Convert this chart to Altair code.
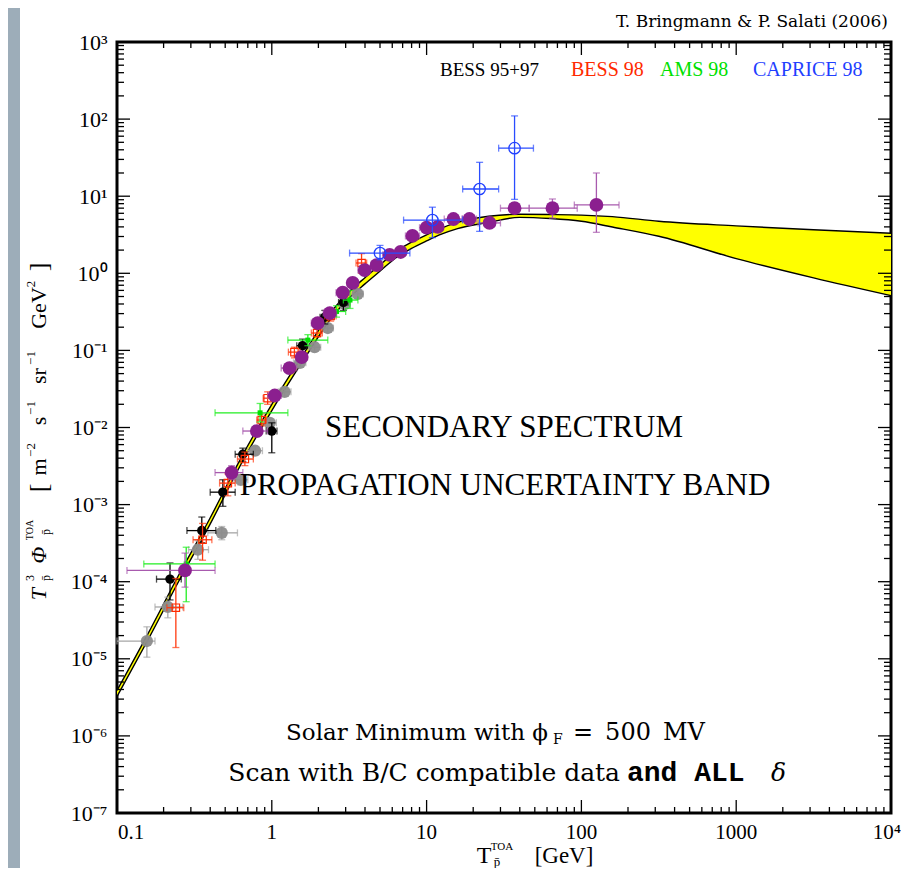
import altair as alt
import pandas as pd

# ---------------- data ----------------
band_T = [0.1, 0.158, 0.251, 0.398, 0.631, 1.0, 1.585, 2.512, 3.162, 3.981, 5.012, 6.31,
          7.943, 10, 12.59, 15.85, 25.12, 39.81, 63.1, 100, 158.5, 316.2, 1000, 3162, 10000]
band_upper = [3.89e-6, 2.09e-5, 1.23e-4, 6.61e-4, 3.98e-3, 0.0200, 0.0871, 0.347, 0.575, 0.871,
              1.29, 1.91, 2.51, 3.16, 3.89, 4.57, 5.50, 5.82, 5.78, 5.69, 5.43, 4.73, 4.12, 3.67, 3.31]
band_lower = [3.24e-6, 1.74e-5, 1.02e-4, 5.50e-4, 3.31e-3, 0.0166, 0.0724, 0.288, 0.479, 0.724,
              1.07, 1.58, 2.09, 2.63, 3.24, 3.80, 4.57, 5.31, 5.13, 4.73, 3.98, 3.02, 1.55, 0.871, 0.513]

# BESS 95+97 (black)
bess9597_T = [0.22, 0.353, 0.483, 0.65, 1.0, 1.58, 2.2, 2.9]
bess9597_y = [1.08e-4, 4.6e-4, 1.45e-3, 4.5e-3, 9.0e-3, 0.115, 0.27, 0.42]
bess9597_Tlo = [0.18, 0.283, 0.40, 0.58, 0.92, 1.45, 2.05, 2.7]
bess9597_Thi = [0.26, 0.435, 0.58, 0.76, 1.08, 1.7, 2.35, 3.1]
bess9597_ylo = [5.8e-5, 3.2e-4, 9.5e-4, 3.6e-3, 4.7e-3, 0.09, 0.22, 0.33]
bess9597_yhi = [1.75e-4, 6.9e-4, 2.1e-3, 5.4e-3, 1.15e-2, 0.14, 0.33, 0.52]

# BESS 98 (red)
bess98_T = [0.24, 0.357, 0.52, 0.67, 0.86, 0.94, 1.4, 1.96, 2.4, 3.8]
bess98_y = [4.6e-5, 3.5e-4, 1.9e-3, 3.9e-3, 0.0125, 0.024, 0.095, 0.168, 0.28, 1.36]
bess98_Tlo = [0.21, 0.31, 0.46, 0.60, 0.80, 0.88, 1.28, 1.8, 2.2, 3.5]
bess98_Thi = [0.27, 0.41, 0.58, 0.76, 0.92, 1.02, 1.52, 2.12, 2.6, 4.1]
bess98_ylo = [1.4e-5, 1.9e-4, 1.3e-3, 3.2e-3, 0.0105, 0.020, 0.08, 0.15, 0.24, 1.0]
bess98_yhi = [1.1e-4, 5.7e-4, 2.5e-3, 4.8e-3, 0.015, 0.029, 0.11, 0.20, 0.33, 1.8]

# AMS 98 (green)
ams98_T = [0.28, 0.84, 1.71, 2.62, 3.2]
ams98_y = [1.7e-4, 0.0155, 0.136, 0.32, 0.45]
ams98_Tlo = [0.149, 0.43, 1.27, 2.3, 2.9]
ams98_Thi = [0.43, 1.27, 2.3, 3.0, 3.6]
ams98_ylo = [5.5e-5, 0.0118, 0.115, 0.27, 0.35]
ams98_yhi = [2.8e-4, 0.0205, 0.16, 0.38, 0.6]

# CAPRICE 98 (blue)
caprice_T = [5.0, 10.9, 22, 37]
caprice_y = [1.83, 4.9, 12.4, 42]
caprice_Tlo = [3.18, 7.1, 17.1, 29.2]
caprice_Thi = [7.8, 17.1, 29.2, 49]
caprice_ylo = [1.5, 2.9, 3.5, 9.1]
caprice_yhi = [2.3, 7.2, 27.5, 110]

# purple series
purple_T = [0.275, 0.55, 0.8, 1.045, 1.3, 1.56, 1.98, 2.37, 2.87, 3.33, 3.98, 4.75, 5.77,
            6.8, 8.1, 10.0, 11.8, 14.9, 18.9, 25.5, 37, 65, 125]
purple_y = [1.4e-4, 2.6e-3, 9e-3, 0.026, 0.059, 0.082, 0.226, 0.305, 0.56, 0.75, 1.1, 1.28,
            1.73, 1.89, 3.05, 3.9, 4.0, 5.06, 5.06, 4.5, 7.0, 7.0, 7.7]
purple_Tlo = [0.116, 0.43, 0.65, 0.94, 1.15, 1.45, 1.8, 2.15, 2.6, 3.15, 3.6, 4.35, 5.2,
              6.3, 7.3, 9.0, 11, 13, 17, 21.5, 30, 46, 90]
purple_Thi = [0.43, 0.65, 0.94, 1.15, 1.45, 1.7, 2.15, 2.6, 3.15, 3.6, 4.35, 5.2, 6.3,
              7.3, 9.0, 11, 12.8, 17, 21, 30, 46, 94, 175]
purple_ylo = [8.5e-5, 2.1e-3, 7.8e-3, 0.023, 0.053, 0.074, 0.205, 0.28, 0.51, 0.69, 1.0, 1.17,
              1.58, 1.73, 2.8, 3.55, 3.65, 4.6, 4.6, 3.9, 6.0, 5.2, 3.4]
purple_yhi = [2.35e-4, 3.2e-3, 1.05e-2, 0.029, 0.066, 0.091, 0.25, 0.335, 0.61, 0.82, 1.2, 1.4,
              1.9, 2.07, 3.35, 4.3, 4.4, 5.55, 5.6, 5.2, 8.2, 9.2, 20]

# gray series
gray_T = [0.156, 0.213, 0.333, 0.475, 0.63, 0.78, 0.97, 1.21, 1.52, 1.89, 2.3, 2.96, 3.59]
gray_y = [1.7e-5, 4.7e-5, 2.6e-4, 4.3e-4, 2.1e-3, 5e-3, 0.0115, 0.029, 0.069, 0.11, 0.195, 0.4, 0.54]
gray_Tlo = [0.1, 0.176, 0.29, 0.386, 0.57, 0.70, 0.88, 1.1, 1.38, 1.72, 2.1, 2.7, 3.3]
gray_Thi = [0.176, 0.266, 0.39, 0.60, 0.70, 0.87, 1.07, 1.33, 1.66, 2.07, 2.5, 3.2, 3.9]
gray_ylo = [1.05e-5, 3.4e-5, 1.95e-4, 3.5e-4, 1.8e-3, 4.4e-3, 0.0101, 0.0255, 0.061, 0.097, 0.172, 0.35, 0.47]
gray_yhi = [2.6e-5, 6.3e-5, 3.4e-4, 5.2e-4, 2.45e-3, 5.7e-3, 0.0131, 0.033, 0.078, 0.125, 0.22, 0.45, 0.62]

x_major = [0.1, 1, 10, 100, 1000, 10000]
x_labels = ["0.1", "1", "10", "100", "1000", "10⁴"]
y_major = [1e-7, 1e-6, 1e-5, 1e-4, 1e-3, 1e-2, 1e-1, 1, 10, 100, 1000]
y_labels = ["10⁻⁷", "10⁻⁶", "10⁻⁵", "10⁻⁴", "10⁻³", "10⁻²", "10⁻¹", "10⁰", "10¹", "10²", "10³"]
minor_mult = [2, 3, 4, 5, 6, 7, 8, 9]

# ---------------- chart ----------------
W, H = 774, 771
SERIF = "Liberation Serif"
WIDE = "DejaVu Serif"
xs = alt.Scale(type="log", domain=[0.1, 1e4], nice=False)
ys = alt.Scale(type="log", domain=[1e-7, 1e3], nice=False)

y_label_expr = "[" + ",".join("'%s'" % s for s in y_labels) + "][round(log(datum.value)/LN10)+7]"

xaxis = alt.Axis(values=x_major, labels=False, ticks=False, domain=False, grid=False, title=None)
yaxis = alt.Axis(values=y_major, labelExpr=y_label_expr, ticks=False, domain=False, grid=False,
                 title=None, labelFont=SERIF, labelFontSize=22, labelColor="black",
                 labelPadding=10, labelFlush=False, labelBaseline="middle")


def X(f):
    return alt.X(f, scale=xs, axis=xaxis, title=None)


def Y(f):
    return alt.Y(f, scale=ys, axis=yaxis, title=None)


band_df = pd.DataFrame({"T": band_T, "lo": band_lower, "hi": band_upper})
band = alt.Chart(band_df).mark_area(color="#ffff00", interpolate="monotone").encode(
    x=X("T:Q"), y=Y("lo:Q"), y2="hi:Q")
band_up = alt.Chart(band_df).mark_line(color="black", strokeWidth=1.4, interpolate="monotone").encode(
    x=X("T:Q"), y=Y("hi:Q"))
band_low = alt.Chart(band_df).mark_line(color="black", strokeWidth=1.4, interpolate="monotone").encode(
    x=X("T:Q"), y=Y("lo:Q"))


def errs(T, y, Tlo, Thi, ylo, yhi, ecolor, cap=7, sw=1.3):
    df = pd.DataFrame({"T": T, "y": y, "Tlo": Tlo, "Thi": Thi, "ylo": ylo, "yhi": yhi})
    capv = pd.DataFrame({"T": list(Tlo) + list(Thi), "y": list(y) + list(y)})
    caph = pd.DataFrame({"T": list(T) + list(T), "y": list(ylo) + list(yhi)})
    h = alt.Chart(df).mark_rule(color=ecolor, strokeWidth=sw).encode(
        x=X("Tlo:Q"), x2="Thi:Q", y=Y("y:Q"))
    v = alt.Chart(df).mark_rule(color=ecolor, strokeWidth=sw).encode(
        x=X("T:Q"), y=Y("ylo:Q"), y2="yhi:Q")
    cv = alt.Chart(capv).mark_tick(color=ecolor, orient="vertical", size=cap, thickness=sw).encode(
        x=X("T:Q"), y=Y("y:Q"))
    ch = alt.Chart(caph).mark_tick(color=ecolor, orient="horizontal", size=cap, thickness=sw).encode(
        x=X("T:Q"), y=Y("y:Q"))
    return [h, v, cv, ch], df


def pts(df, **kw):
    return alt.Chart(df).mark_point(**kw).encode(x=X("T:Q"), y=Y("y:Q"))


def txt(s, x, y, size, color="black", align="center", font=SERIF, weight="normal", style="normal", angle=0):
    return alt.Chart(pd.DataFrame({"d": [0]})).mark_text(
        text=s, align=align, baseline="middle", font=font, fontSize=size, color=color,
        fontWeight=weight, fontStyle=style, angle=angle).encode(x=alt.value(x), y=alt.value(y))


# slide-like grey strip on the left edge
strip = alt.Chart(pd.DataFrame({"d": [0]})).mark_rect(color="#9dadb9").encode(
    x=alt.value(-109), x2=alt.value(-97), y=alt.value(-34), y2=alt.value(H + 55))

layers = [strip, band, band_up, band_low]

e_gray, d_gray = errs(gray_T, gray_y, gray_Tlo, gray_Thi, gray_ylo, gray_yhi, "#a6a6a6")
e_black, d_black = errs(bess9597_T, bess9597_y, bess9597_Tlo, bess9597_Thi, bess9597_ylo, bess9597_yhi, "#000000")
e_red, d_red = errs(bess98_T, bess98_y, bess98_Tlo, bess98_Thi, bess98_ylo, bess98_yhi, "#ff3a10")
e_green, d_green = errs(ams98_T, ams98_y, ams98_Tlo, ams98_Thi, ams98_ylo, ams98_yhi, "#22ee22")
e_purple, d_purple = errs(purple_T, purple_y, purple_Tlo, purple_Thi, purple_ylo, purple_yhi, "#a85aae")
e_blue, d_blue = errs(caprice_T, caprice_y, caprice_Tlo, caprice_Thi, caprice_ylo, caprice_yhi, "#2a4cff")

layers += e_gray + [pts(d_gray, shape="circle", filled=True, size=150, color="#8c8c8c", opacity=0.95)]
layers += e_black + [pts(d_black, shape="circle", filled=True, size=90, color="#000000", opacity=1)]
layers += e_red + [pts(d_red, shape="square", filled=False, size=55, color="#ff2a00", strokeWidth=1.2, opacity=1)]
layers += e_green + [pts(d_green, shape="square", filled=True, size=25, color="#00e000", opacity=1)]
layers += e_purple + [pts(d_purple, shape="circle", filled=True, size=190, color="#8b1f8f", opacity=1)]
layers += e_blue + [pts(d_blue, shape="circle", filled=False, size=130, color="#1f3fff", strokeWidth=1.3, opacity=1)]


# inward ticks on all four sides
def tick_df(vals):
    return pd.DataFrame({"v": vals})


x_minor = [m * d for d in [0.1, 1, 10, 100, 1000] for m in minor_mult]
y_minor = [m * d for d in [1e-7, 1e-6, 1e-5, 1e-4, 1e-3, 1e-2, 1e-1, 1, 10, 100] for m in minor_mult]
for vals, ln in [(x_major, 13), (x_minor, 6)]:
    for y0, y1 in [(H, H - ln), (0, ln)]:
        layers.append(alt.Chart(tick_df(vals)).mark_rule(color="black", strokeWidth=1.3).encode(
            x=X("v:Q"), y=alt.value(y0), y2=alt.value(y1)))
for vals, ln in [(y_major, 13), (y_minor, 7)]:
    for x0, x1 in [(0, ln), (W, W - ln)]:
        layers.append(alt.Chart(tick_df(vals)).mark_rule(color="black", strokeWidth=1.3).encode(
            y=Y("v:Q"), x=alt.value(x0), x2=alt.value(x1)))

# x tick labels (first one flush-left with the frame, as in the reference)
xlab = pd.DataFrame({"v": x_major, "lab": x_labels})
for rows, align, dx in [(xlab.iloc[:1], "left", 1), (xlab.iloc[1:-1], "center", 0), (xlab.iloc[-1:], "center", -4)]:
    layers.append(alt.Chart(rows).mark_text(align=align, baseline="middle", font=SERIF, fontSize=21,
                                            color="black", dx=dx).encode(
        x=X("v:Q"), y=alt.value(H + 20), text="lab:N"))

layers += [
    txt("T. Bringmann & P. Salati (2006)", 771, -20, 17, align="right", font=WIDE),
    txt("BESS 95+97", 323, 28, 19, align="left"),
    txt("BESS 98", 454, 28, 20, color="#ff2a00", align="left"),
    txt("AMS 98", 543, 28, 20, color="#00e000", align="left"),
    txt("CAPRICE 98", 636, 28, 20, color="#1f3fff", align="left"),
    txt("SECONDARY SPECTRUM", 387, 386, 31),
    txt("PROPAGATION UNCERTAINTY BAND", 388, 444, 31),
    txt("Solar Minimum with ϕ", 431, 691, 23, align="right", font=WIDE),
    txt("F", 436, 698, 14, align="left", font=WIDE),
    txt("=\u2002500\u2002MV", 456, 691, 24, align="left", font=WIDE),
    txt("Scan with B/C compatible data", 503, 731, 25, align="right", font=WIDE),
    txt("and ALL", 510, 731, 28, align="left", font="Liberation Mono", weight="bold"),
    txt("δ", 654, 731, 25, align="left", style="italic", font=WIDE),
    # x-axis title
    txt("T", 367, 814, 24),
    txt("TOA", 385, 805, 11),
    txt("p\u0304", 380, 820, 13),
    txt("[GeV]", 447, 814, 23),
    # y-axis title (rotated)
    txt("[", -78, 446, 26, angle=270),
    txt("m", -78, 425, 22, angle=270),
    txt("−2", -86, 408, 13, angle=270),
    txt("s", -78, 379, 22, angle=270),
    txt("−1", -86, 366, 13, angle=270),
    txt("sr", -78, 334, 22, angle=270),
    txt("−1", -86, 316, 13, angle=270),
    txt("GeV", -78, 266, 22, angle=270),
    txt("2", -86, 242, 13, angle=270),
    txt("]", -78, 225, 26, angle=270),
    txt("Φ", -78, 513, 22, style="italic", angle=270),
    txt("TOA", -87, 488, 10, angle=270),
    txt("p\u0304", -71, 490, 12, angle=270),
    txt("T", -78, 552, 22, style="italic", angle=270),
    txt("3", -87, 536, 12, angle=270),
    txt("p\u0304", -71, 536, 12, angle=270),
]

chart = alt.layer(*layers).properties(
    width=W, height=H,
    autosize=alt.AutoSizeParams(type="none"),
    padding={"left": 109, "top": 34, "right": 10, "bottom": 55},
    background="white",
).configure_view(stroke="black", strokeWidth=3)

chart.save("out.html", embed_options={"renderer": "svg", "actions": False})
